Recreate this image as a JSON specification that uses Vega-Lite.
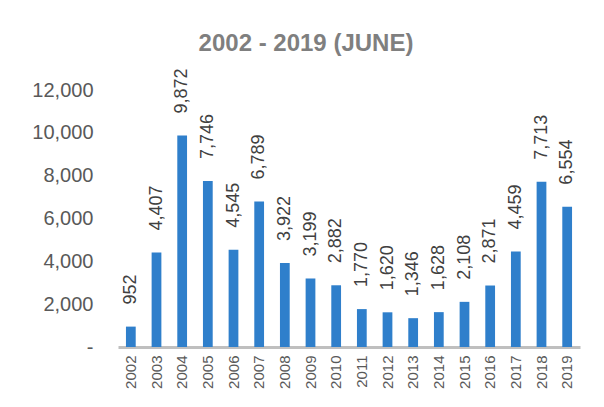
{
  "$schema": "https://vega.github.io/schema/vega-lite/v6.json",
  "width": 462,
  "height": 257,
  "autosize": {"type": "none"},
  "padding": {"left": 118, "top": 90, "right": 24, "bottom": 60},
  "background": "white",
  "title": {
    "text": "2002 - 2019 (JUNE)",
    "font": "Liberation Sans",
    "fontSize": 24,
    "fontWeight": "bold",
    "color": "#7F7F7F",
    "anchor": "middle",
    "frame": "group",
    "dx": -43,
    "dy": 7,
    "offset": 20
  },
  "config": {
    "view": {"stroke": null},
    "font": "Liberation Sans"
  },
  "data": {
    "values": [
      {"year": "2002", "value": 952},
      {"year": "2003", "value": 4407},
      {"year": "2004", "value": 9872},
      {"year": "2005", "value": 7746},
      {"year": "2006", "value": 4545},
      {"year": "2007", "value": 6789},
      {"year": "2008", "value": 3922},
      {"year": "2009", "value": 3199},
      {"year": "2010", "value": 2882},
      {"year": "2011", "value": 1770},
      {"year": "2012", "value": 1620},
      {"year": "2013", "value": 1346},
      {"year": "2014", "value": 1628},
      {"year": "2015", "value": 2108},
      {"year": "2016", "value": 2871},
      {"year": "2017", "value": 4459},
      {"year": "2018", "value": 7713},
      {"year": "2019", "value": 6554}
    ]
  },
  "encoding": {
    "x": {
      "field": "year",
      "type": "ordinal",
      "scale": {"paddingInner": 0.62, "paddingOuter": 0.31},
      "axis": {
        "title": null,
        "labelAngle": -90,
        "labelFontSize": 15,
        "labelColor": "#595959",
        "labelPadding": 8,
        "ticks": false,
        "domainColor": "#BFBFBF",
        "domainWidth": 3
      }
    },
    "y": {
      "field": "value",
      "type": "quantitative",
      "scale": {"domain": [0, 12000], "nice": false},
      "axis": {
        "title": null,
        "values": [0, 2000, 4000, 6000, 8000, 10000, 12000],
        "labelExpr": "datum.value == 0 ? '-' : format(datum.value, ',')",
        "labelFontSize": 20,
        "labelColor": "#595959",
        "labelPadding": 25,
        "ticks": false,
        "domain": false,
        "grid": false
      }
    }
  },
  "layer": [
    {
      "mark": {"type": "bar", "color": "#2F7FCB"}
    },
    {
      "mark": {
        "type": "text",
        "angle": 270,
        "align": "left",
        "baseline": "middle",
        "dx": 22,
        "fontSize": 18,
        "color": "#404040"
      },
      "encoding": {
        "text": {"field": "value", "type": "quantitative", "format": ","}
      }
    }
  ]
}
